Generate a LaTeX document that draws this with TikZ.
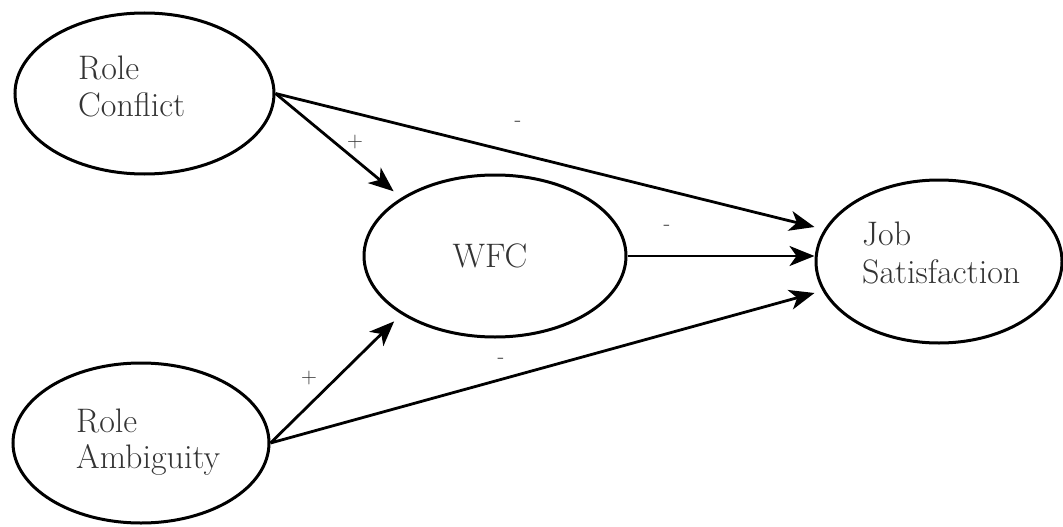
\documentclass[tikz,border=0pt]{standalone}
\usetikzlibrary{shapes.geometric,arrows.meta}
\begin{document}
\begin{tikzpicture}[x=1pt,y=-1pt,
  ell/.style={draw=black,line width=3pt,ellipse,inner sep=0pt},
  lbl/.style={anchor=base west,inner sep=0pt,text=black!80,font=\fontsize{34}{40}\selectfont},
  sgn/.style={inner sep=0pt,text=black!80,font=\fontsize{22}{24}\selectfont},
  arr/.style={line width=2.8pt,-{Stealth[length=25pt,width=20pt,inset=7pt]}}]
\path[use as bounding box] (0,0) rectangle (1063,527);
% ellipses
\node[ell,minimum width=259pt,minimum height=161pt] (rc) at (144.5,93.5) {};
\node[ell,minimum width=262pt,minimum height=162pt] (wfc) at (495,256) {};
\node[ell,minimum width=246pt,minimum height=163pt] (js) at (939,261.5) {};
\node[ell,minimum width=256pt,minimum height=160pt] (ra) at (141,443) {};
% texts
\node[lbl] (rc1) at (78,80) {Role};
\node[lbl] (rc2) at (78,117) {Conflict};
\node[lbl,anchor=base] (wfct) at (490,267) {WFC};
\node[lbl] (js1) at (862,245) {Job};
\node[lbl] (js2) at (862,283) {Satisfaction};
\node[lbl] (ra1) at (76,432) {Role};
\node[lbl] (ra2) at (76,468) {Ambiguity};
% connectors
\draw[arr,shorten >=10pt] (rc.east) -- (wfc.north west);
\draw[arr,shorten >=10pt] (ra.east) -- (wfc.south west);
\draw[arr] (rc.east) -- ([yshift=34.5pt]js.west);
\draw[arr] (wfc.east) -- (wfc.east -| js.west);
\draw[arr] (ra.east) -- ([yshift=-31.5pt]js.west);
% signs
\node[sgn] (s1) at (355,142) {+};
\node[sgn] (s2) at (309,378) {+};
\node[sgn] (s3) at (518,124) {-};
\node[sgn] (s4) at (667,228) {-};
\node[sgn] (s5) at (501,361) {-};
\end{tikzpicture}
\end{document}
